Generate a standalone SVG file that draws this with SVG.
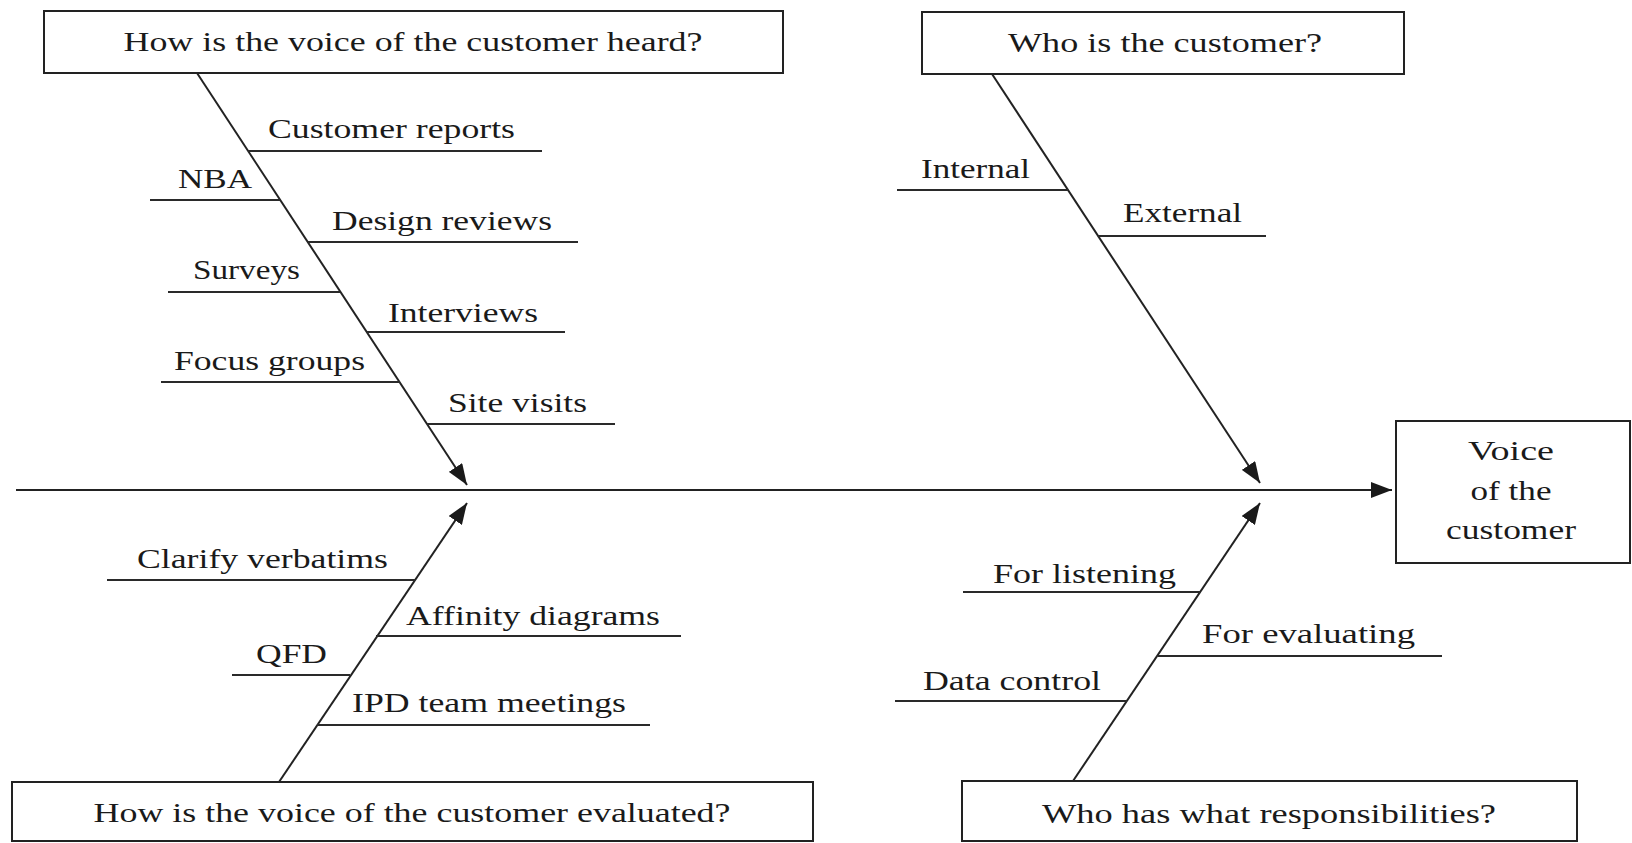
<svg xmlns="http://www.w3.org/2000/svg" width="1632" height="843" viewBox="0 0 1632 843">
  <defs>
    <style>
      .box{fill:#fff;stroke:#222;stroke-width:2}
      .bone{stroke:#222;stroke-width:2;fill:none}
      .sub{stroke:#2a2a2a;stroke-width:2;fill:none}
      .t{font-family:"Liberation Serif","Times New Roman",serif;font-size:28px;fill:#1a1a1a}
      .c{text-anchor:middle}
    </style>
    <marker id="arr" markerUnits="userSpaceOnUse" markerWidth="22" markerHeight="16" refX="21" refY="8" orient="auto">
      <path d="M0,0 L21,8 L0,16 z" fill="#1a1a1a"/>
    </marker>
  </defs>
  <rect width="1632" height="843" fill="#fff"/>

  <g id="connectors">
    <line class="bone" x1="16" y1="490" x2="1392" y2="490" marker-end="url(#arr)"/>
    <line class="bone" x1="197" y1="73" x2="467" y2="485" marker-end="url(#arr)"/>
    <line class="bone" x1="992" y1="74" x2="1260" y2="483" marker-end="url(#arr)"/>
    <line class="bone" x1="279" y1="782" x2="467" y2="503" marker-end="url(#arr)"/>
    <line class="bone" x1="1073" y1="781" x2="1260" y2="503" marker-end="url(#arr)"/>
  </g>

  <g id="q-heard">
    <rect class="box" x="44" y="11" width="739" height="62"/>
    <text class="t c" x="413" y="51" textLength="579" lengthAdjust="spacingAndGlyphs">How is the voice of the customer heard?</text>
  </g>
  <g id="q-who">
    <rect class="box" x="922" y="12" width="482" height="62"/>
    <text class="t c" x="1165" y="52" textLength="314" lengthAdjust="spacingAndGlyphs">Who is the customer?</text>
  </g>
  <g id="q-evaluated">
    <rect class="box" x="12" y="782" width="801" height="59"/>
    <text class="t c" x="412" y="822" textLength="637" lengthAdjust="spacingAndGlyphs">How is the voice of the customer evaluated?</text>
  </g>
  <g id="q-resp">
    <rect class="box" x="962" y="781" width="615" height="60"/>
    <text class="t c" x="1269" y="823" textLength="454" lengthAdjust="spacingAndGlyphs">Who has what responsibilities?</text>
  </g>
  <g id="effect">
    <rect class="box" x="1396" y="421" width="234" height="142"/>
    <text class="t c" x="1511" y="460" textLength="86" lengthAdjust="spacingAndGlyphs">Voice</text>
    <text class="t c" x="1511" y="500" textLength="81" lengthAdjust="spacingAndGlyphs">of the</text>
    <text class="t c" x="1511" y="539" textLength="130" lengthAdjust="spacingAndGlyphs">customer</text>
  </g>

  <g id="cause-customer-reports">
    <line class="sub" x1="248" y1="151" x2="542" y2="151"/>
    <text class="t" x="268" y="138" textLength="247" lengthAdjust="spacingAndGlyphs">Customer reports</text>
  </g>
  <g id="cause-nba">
    <line class="sub" x1="150" y1="200" x2="280" y2="200"/>
    <text class="t" x="178" y="188" textLength="74" lengthAdjust="spacingAndGlyphs">NBA</text>
  </g>
  <g id="cause-design-reviews">
    <line class="sub" x1="308" y1="242" x2="578" y2="242"/>
    <text class="t" x="332" y="230" textLength="220" lengthAdjust="spacingAndGlyphs">Design reviews</text>
  </g>
  <g id="cause-surveys">
    <line class="sub" x1="168" y1="292" x2="340" y2="292"/>
    <text class="t" x="193" y="279" textLength="107" lengthAdjust="spacingAndGlyphs">Surveys</text>
  </g>
  <g id="cause-interviews">
    <line class="sub" x1="367" y1="332" x2="565" y2="332"/>
    <text class="t" x="388" y="322" textLength="150" lengthAdjust="spacingAndGlyphs">Interviews</text>
  </g>
  <g id="cause-focus-groups">
    <line class="sub" x1="161" y1="382" x2="400" y2="382"/>
    <text class="t" x="174" y="370" textLength="191" lengthAdjust="spacingAndGlyphs">Focus groups</text>
  </g>
  <g id="cause-site-visits">
    <line class="sub" x1="427" y1="424" x2="615" y2="424"/>
    <text class="t" x="448" y="412" textLength="139" lengthAdjust="spacingAndGlyphs">Site visits</text>
  </g>

  <g id="cause-internal">
    <line class="sub" x1="897" y1="190" x2="1068" y2="190"/>
    <text class="t" x="921" y="178" textLength="109" lengthAdjust="spacingAndGlyphs">Internal</text>
  </g>
  <g id="cause-external">
    <line class="sub" x1="1098" y1="236" x2="1266" y2="236"/>
    <text class="t" x="1123" y="222" textLength="119" lengthAdjust="spacingAndGlyphs">External</text>
  </g>

  <g id="cause-clarify-verbatims">
    <line class="sub" x1="107" y1="580" x2="415" y2="580"/>
    <text class="t" x="137" y="568" textLength="251" lengthAdjust="spacingAndGlyphs">Clarify verbatims</text>
  </g>
  <g id="cause-affinity-diagrams">
    <line class="sub" x1="376" y1="636" x2="681" y2="636"/>
    <text class="t" x="406" y="625" textLength="254" lengthAdjust="spacingAndGlyphs">Affinity diagrams</text>
  </g>
  <g id="cause-qfd">
    <line class="sub" x1="232" y1="675" x2="350" y2="675"/>
    <text class="t" x="256" y="663" textLength="71" lengthAdjust="spacingAndGlyphs">QFD</text>
  </g>
  <g id="cause-ipd-team-meetings">
    <line class="sub" x1="317" y1="725" x2="650" y2="725"/>
    <text class="t" x="352" y="712" textLength="274" lengthAdjust="spacingAndGlyphs">IPD team meetings</text>
  </g>

  <g id="cause-for-listening">
    <line class="sub" x1="963" y1="592" x2="1200" y2="592"/>
    <text class="t" x="993" y="583" textLength="183" lengthAdjust="spacingAndGlyphs">For listening</text>
  </g>
  <g id="cause-for-evaluating">
    <line class="sub" x1="1158" y1="656" x2="1442" y2="656"/>
    <text class="t" x="1202" y="643" textLength="213" lengthAdjust="spacingAndGlyphs">For evaluating</text>
  </g>
  <g id="cause-data-control">
    <line class="sub" x1="895" y1="701" x2="1127" y2="701"/>
    <text class="t" x="923" y="690" textLength="178" lengthAdjust="spacingAndGlyphs">Data control</text>
  </g>
</svg>
